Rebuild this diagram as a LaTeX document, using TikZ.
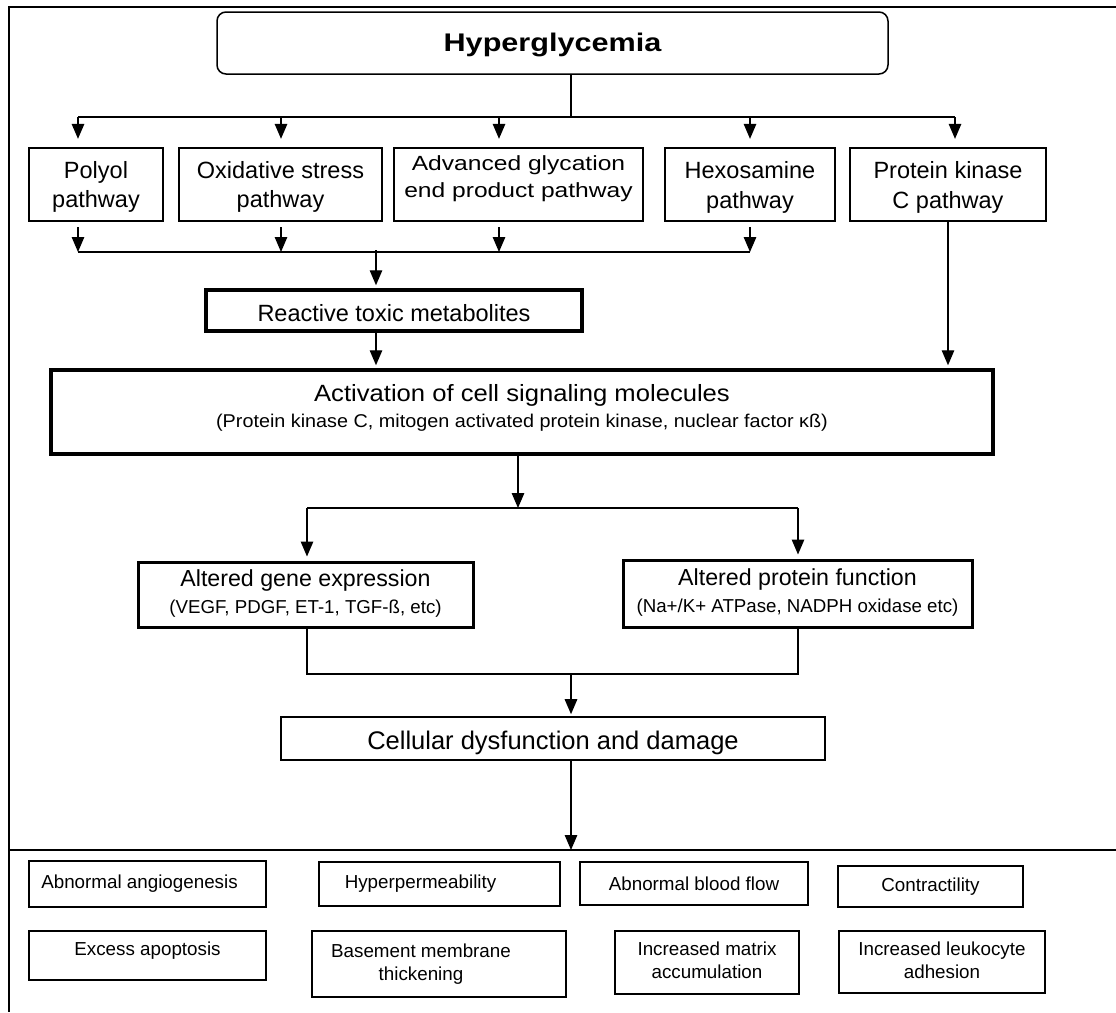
\documentclass[tikz,border=0pt]{standalone}
\usepackage{fontspec}
\setmainfont{Liberation Sans}
\usetikzlibrary{arrows.meta,calc}
\newcommand\fsz[2]{\fontsize{#1}{#2}\selectfont}
\newcommand\wide[1]{\addfontfeature{FakeStretch=#1}}
\newcommand\twolines[2]{\raisebox{#1}[0pt][0pt]{\begin{tabular}[t]{@{}c@{}}#2\end{tabular}}}
\newcommand\oneline[2]{\raisebox{#1}[0pt][0pt]{#2}}
\tikzset{
  box/.style={draw, inner sep=0pt, align=center, line width=2.3pt},
  conn/.style={line width=1.3pt},
  arr/.style={line width=1.3pt, -{Triangle[width=12.5pt,length=15pt]}},
}
\begin{document}
\begin{tikzpicture}[x=1pt,y=-1pt]
\useasboundingbox (0,0) rectangle (1116,1012);
% frame
\draw[line width=2.7pt] (8,7) -- (1116,7);
\draw[line width=2.3pt] (9,6) -- (9,1012);
\draw[line width=1.8pt] (8,850) -- (1116,850);

% top
\node[box, line width=1.5pt, rounded corners=9pt, minimum width=671pt, minimum height=62pt,
  font=\fsz{25.5}{30}\bfseries\wide{1.2}] (hyp) at (552.5,43) {\oneline{-8pt}{Hyperglycemia}};

\node[box, minimum width=134pt, minimum height=73pt, font=\fsz{23.5}{29}] (poly) at (96,184.5) {\twolines{6pt}{Polyol\\pathway}};
\node[box, minimum width=203pt, minimum height=73pt, font=\fsz{23.5}{29}] (oxi) at (280.5,184.5) {\twolines{6pt}{Oxidative stress\\pathway}};
\node[box, minimum width=249pt, minimum height=73pt, font=\fsz{20.5}{27}\wide{1.2}] (adv) at (518.5,184.5)
  {\twolines{14pt}{Advanced glycation\\end product pathway}};
\node[box, minimum width=170pt, minimum height=73pt, font=\fsz{23.5}{30}] (hex) at (750,184.5) {\twolines{6pt}{Hexosamine\\pathway}};
\node[box, minimum width=196pt, minimum height=73pt, font=\fsz{23.5}{30}] (pkc) at (948,184.5) {\twolines{6pt}{Protein kinase\\C pathway}};

\node[box, line width=3.5pt, minimum width=376pt, minimum height=41pt, font=\fsz{23.5}{28}] (rea) at (394,310.5) {\oneline{-11pt}{Reactive toxic metabolites}};

\node[box, line width=3.5pt, minimum width=942pt, minimum height=84pt, font=\fsz{23.5}{28}\wide{1.09}] (act) at (522,412)
  {\twolines{10.5pt}{Activation of cell signaling molecules\\[-2pt]
   {\fsz{18.5}{22}\wide{1.07}(Protein kinase C, mitogen activated protein kinase, nuclear factor κß)}}};

\node[box, line width=3pt, minimum width=335pt, minimum height=65pt, font=\fsz{23.2}{28}] (gene) at (305.5,594.5)
  {\begin{tabular}{@{}c@{}}Altered gene expression\\[-1pt]{\fsz{18.7}{22}(VEGF, PDGF, ET-1, TGF-ß, etc)}\end{tabular}};
\node[box, line width=3pt, minimum width=349pt, minimum height=67pt, font=\fsz{23.2}{28}] (prot) at (797.5,593.5)
  {\begin{tabular}{@{}c@{}}Altered protein function\\[-1pt]{\fsz{18.7}{22}(Na+/K+ ATPase, NADPH oxidase etc)}\end{tabular}};

\node[box, line width=1.6pt, minimum width=544pt, minimum height=43pt, font=\fsz{25.5}{30}] (cell) at (553,738.5) {\oneline{-10.5pt}{Cellular dysfunction and damage}};

% bottom boxes
\tikzset{bbox/.style={box, font=\fsz{18.8}{23}}}
\node[bbox, line width=2.5pt, minimum width=237pt, minimum height=46pt] (ang) at (147.5,884) {Abnormal angiogenesis\hspace*{16pt}};
\node[bbox, line width=2pt, minimum width=241pt, minimum height=44pt] (perm) at (439.5,884) {Hyperpermeability\hspace*{38pt}};
\node[bbox, line width=2.3pt, minimum width=228pt, minimum height=43pt] (flow) at (694,883.5) {Abnormal blood flow};
\node[bbox, line width=2.7pt, minimum width=185pt, minimum height=41pt] (contr) at (930.5,886.5) {Contractility};
\node[bbox, line width=1.7pt, minimum width=237pt, minimum height=49pt] (exc) at (147.5,955.5) {\oneline{0pt}{Excess apoptosis}};
\node[bbox, line width=2.5pt, minimum width=254pt, minimum height=66pt] (base) at (439,964)
  {\begin{tabular}{@{}c@{}}Basement membrane\\thickening\end{tabular}\hspace*{36pt}};
\node[bbox, line width=2.5pt, minimum width=184pt, minimum height=63pt] (matrix) at (707,962.5)
  {\begin{tabular}{@{}c@{}}Increased matrix\\accumulation\end{tabular}};
\node[bbox, line width=2pt, minimum width=206pt, minimum height=62pt] (leuk) at (942,962)
  {\begin{tabular}{@{}c@{}}Increased leukocyte\\adhesion\end{tabular}};

% connectors: hyperglycemia to pathways
\coordinate (j0) at (571,117);
\coordinate (t1) at (78,117);
\coordinate (t2) at (281,117);
\coordinate (t3) at (499,117);
\coordinate (t4) at (750,117);
\coordinate (t5) at (955,117);
\draw[conn] (hyp.south -| j0) -- (j0);
\draw[conn] (t1) -- (t5);
\draw[arr, shorten >=8pt] (t1) -- (poly.north -| t1);
\draw[arr, shorten >=8pt] (t2) -- (oxi.north -| t2);
\draw[arr, shorten >=8pt] (t3) -- (adv.north -| t3);
\draw[arr, shorten >=8pt] (t4) -- (hex.north -| t4);
\draw[arr, shorten >=8pt] (t5) -- (pkc.north -| t5);

% pathways to reactive
\coordinate (m1) at (78,252);
\coordinate (m2) at (281,252);
\coordinate (m3) at (499,252);
\coordinate (m4) at (750,252);
\coordinate (m5) at (376,250);
\draw[arr, shorten <=5pt] (poly.south -| m1) -- (m1);
\draw[arr, shorten <=5pt] (oxi.south -| m2) -- (m2);
\draw[arr, shorten <=5pt] (adv.south -| m3) -- (m3);
\draw[arr, shorten <=5pt] (hex.south -| m4) -- (m4);
\draw[conn] (m1) -- (m4);
\draw[arr, shorten >=3pt] (m5) -- (rea.north -| m5);

% to activation
\draw[arr, shorten >=3pt] (rea.south -| m5) -- (act.north -| m5);
\draw[arr, shorten >=3pt] (pkc.south) -- (act.north -| pkc.south);

% activation to altered
\coordinate (n0) at (518,508);
\coordinate (n1) at (307,508);
\coordinate (n2) at (798,508);
\draw[arr] (act.south -| n0) -- (n0);
\draw[conn] (n1) -- (n2);
\draw[arr, shorten >=4pt] (n1) -- (gene.north -| n1);
\draw[arr, shorten >=4pt] (n2) -- (prot.north -| n2);

% altered to cellular
\coordinate (p1) at (307,674);
\coordinate (p2) at (798,674);
\coordinate (p0) at (571,674);
\draw[conn] (gene.south -| p1) -- (p1) -- (p2) -- (prot.south -| p2);
\draw[arr, shorten >=2pt] (p0) -- (cell.north -| p0);

% cellular to outcomes
\coordinate (q0) at (571,850);
\draw[arr] (cell.south -| q0) -- (q0);
\end{tikzpicture}
\end{document}
